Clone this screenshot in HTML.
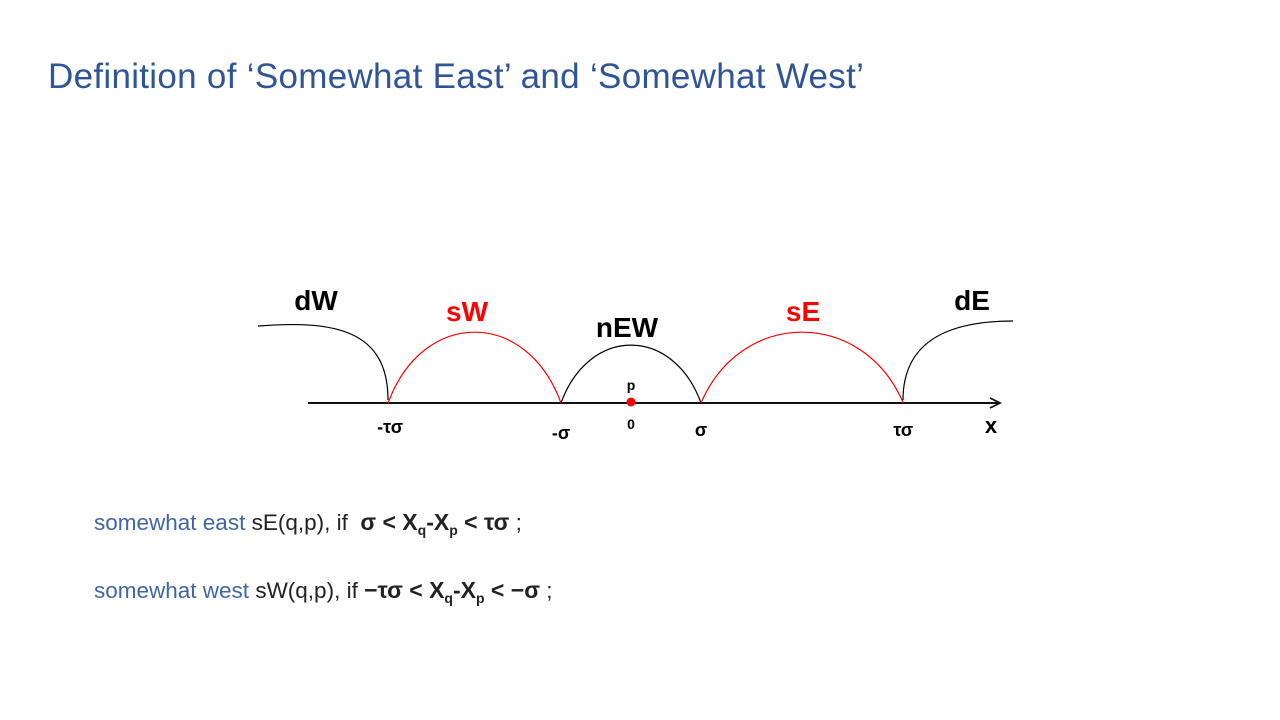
<!DOCTYPE html>
<html><head><meta charset="utf-8"><style>
body{margin:0;width:1280px;height:720px;background:#fff;overflow:hidden;position:relative;font-family:"Liberation Sans",sans-serif}
.title{position:absolute;left:48px;top:57px;font-size:35px;color:#2f5597;white-space:nowrap;letter-spacing:0.3px}
.def{position:absolute;left:94px;font-size:22.5px;color:#222;white-space:nowrap}
.def .b{color:#4066a8}
.def .m{font-weight:bold;font-size:23px}
sub{font-size:14px;vertical-align:-5px}
</style></head><body>
<div class="title">Definition of ‘Somewhat East’ and ‘Somewhat West’</div>
<svg id="chart" width="1280" height="720" style="position:absolute;left:0;top:0"></svg>
<div class="def" style="top:509px"><span class="b">somewhat east</span> sE(q,p), if &nbsp;<span class="m">σ &lt; X<sub>q</sub>-X<sub>p</sub> &lt; τσ</span> ;</div>
<div class="def" style="top:577px"><span class="b">somewhat west</span> sW(q,p), if <span class="m">−τσ &lt; X<sub>q</sub>-X<sub>p</sub> &lt; −σ</span> ;</div>
<script>
const tickValues=[-3.47,-1,0,1,3.89];
const tickLabels=["-τσ","-σ","0","σ","τσ"];
const arcStarts=[-3.47,-1,1];
const arcEnds=[-1,1,3.89];
const arcHeights=[71,58,71];
const arcNames=["sW","nEW","sE"];
const arcColors=["#ff0000","#000","#ff0000"];
const NS="http://www.w3.org/2000/svg";
const svg=document.getElementById('chart');
const x0=631,unit=70,axisY=403;
function X(v){return x0+v*unit;}
function Y(h){return axisY-h;}
function mk(t,a){const e=document.createElementNS(NS,t);for(const k in a)e.setAttribute(k,a[k]);svg.appendChild(e);return e;}
const ax=mk('line',{x1:308,y1:axisY,x2:998,y2:axisY,stroke:'#111','stroke-width':2});


const ar=mk('path',{d:`M990 ${axisY-5} L1000 ${axisY} L990 ${axisY+5}`,fill:'none',stroke:'#111','stroke-width':1.8});


for(let i=0;i<arcStarts.length;i++){
  const a=X(arcStarts[i]),b=X(arcEnds[i]),h=arcHeights[i];
  const p=mk('path',{d:`M${a} ${axisY} C${a+(b-a)*0.2} ${Y(h*1.33)} ${b-(b-a)*0.2} ${Y(h*1.33)} ${b} ${axisY}`,fill:'none',stroke:arcColors[i],'stroke-width':1.2});
  
  
}
const dw=mk('path',{d:`M258 326 C335 320 388 330 388 400`,fill:'none',stroke:'#000','stroke-width':1.2});


const de=mk('path',{d:`M903 400 C903 340 950 321 1013 321`,fill:'none',stroke:'#000','stroke-width':1.2});


const tickY=[433,439,429,436,436];
for(let i=0;i<tickValues.length;i++){
  const t=mk('text',{x:X(tickValues[i])+(i==0?2:0),y:tickY[i],'text-anchor':'middle','font-weight':'bold','font-size':i==2?14:18,fill:'#000'});
  t.textContent=tickLabels[i];
  
  
}
const xl=mk('text',{x:991,y:433,'text-anchor':'middle','font-weight':'bold','font-size':22});xl.textContent='x';


const dot=mk('circle',{cx:X(0),cy:axisY-1,r:4.5,fill:'#ff0000'});


const pl=mk('text',{x:X(0),y:390,'text-anchor':'middle','font-weight':'bold','font-size':14});pl.textContent='p';


const regionLabels=[["dW",316,310,"#000"],["sW",467,321,"#ff0000"],["nEW",627,337,"#000"],["sE",803,321,"#ff0000"],["dE",972,310,"#000"]];
for(const r of regionLabels){
  const t=mk('text',{x:r[1],y:r[2],'text-anchor':'middle','font-weight':'bold','font-size':28,fill:r[3]});
  t.textContent=r[0];
  
  
}
</script>
</body></html>
